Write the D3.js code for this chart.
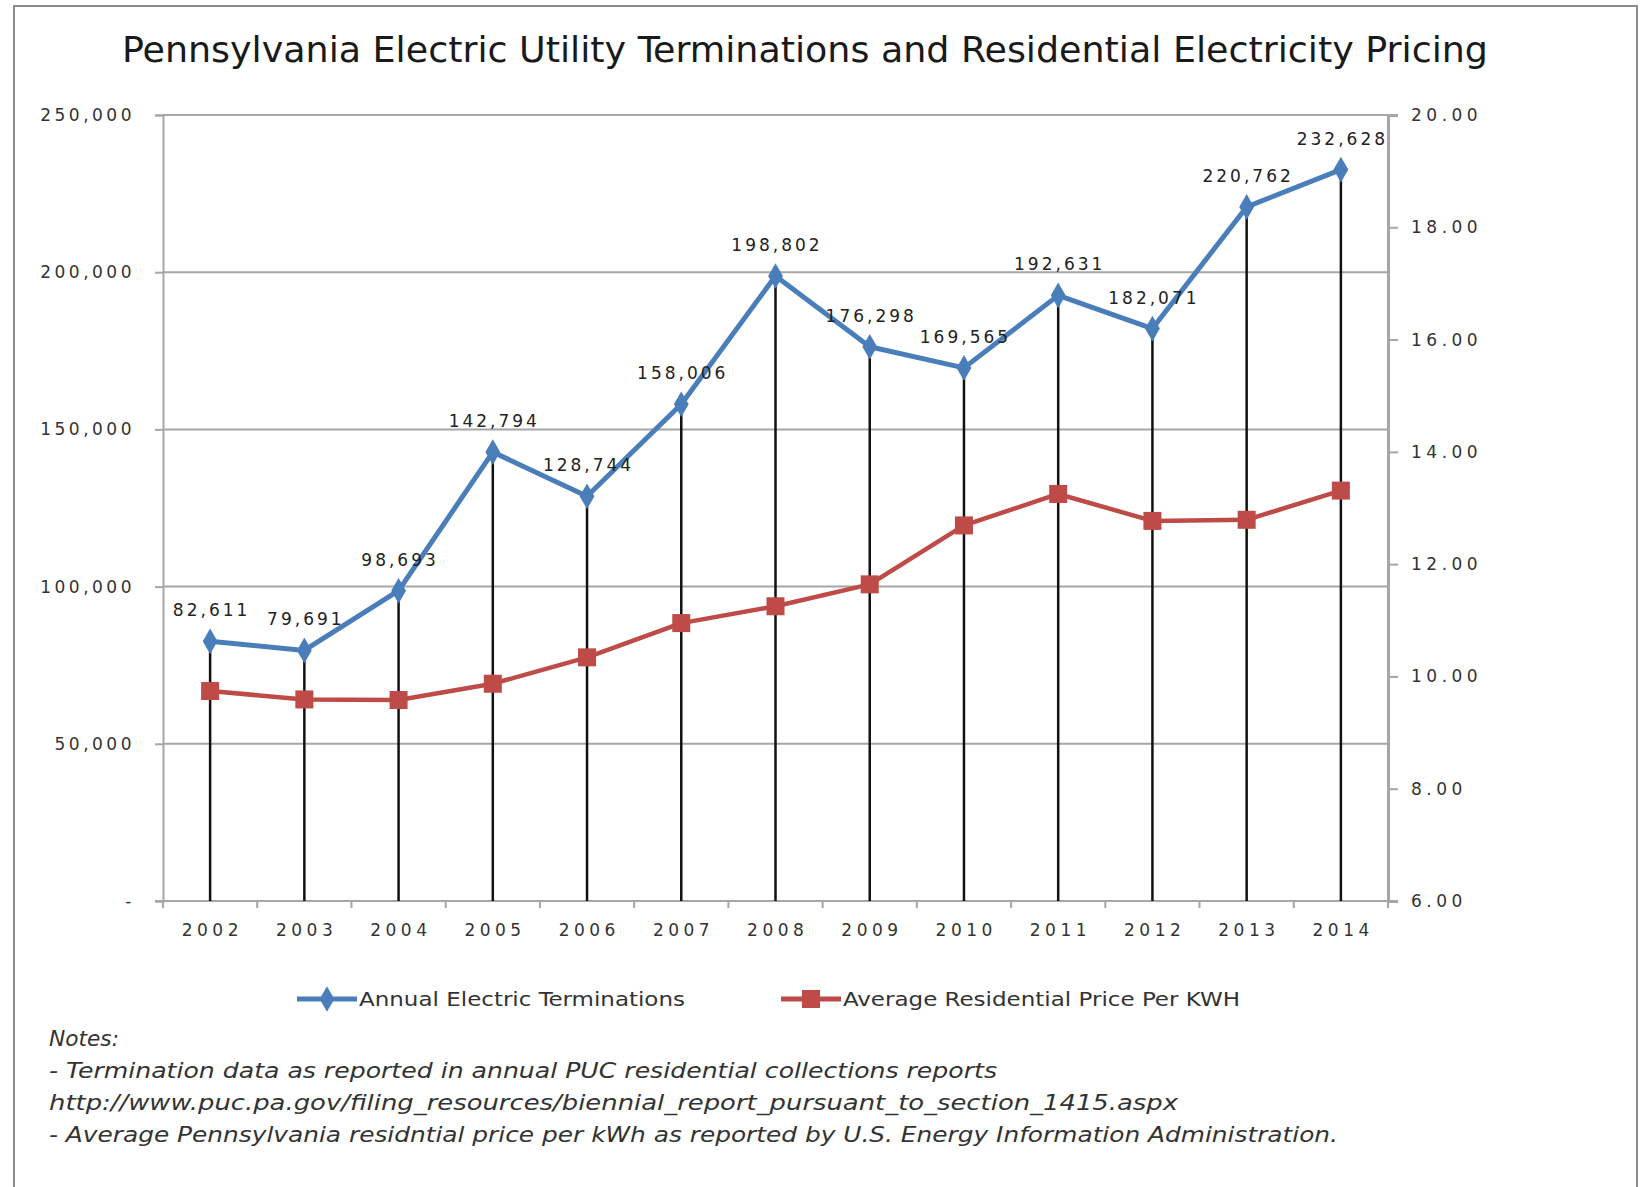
<!DOCTYPE html>
<html>
<head>
<meta charset="utf-8">
<script src="https://cdn.jsdelivr.net/npm/d3@7"></script>
<style>
  body { margin: 0; background: #fff; }
  svg { display: block; }
</style>
</head>
<body>
<div id="chart"></div>
<script>
// chart values
const years = ["2002", "2003", "2004", "2005", "2006", "2007", "2008", "2009", "2010", "2011", "2012", "2013", "2014"];
const terminations = [82611, 79691, 98693, 142794, 128744, 158006, 198802, 176298, 169565, 192631, 182071, 220762, 232628];
const prices = [9.74, 9.59, 9.58, 9.87, 10.34, 10.95, 11.25, 11.64, 12.69, 13.25, 12.77, 12.79, 13.31];
const leftTicks = [0, 50000, 100000, 150000, 200000, 250000];
const rightTicks = [6, 8, 10, 12, 14, 16, 18, 20];
const seriesNames = ["Annual Electric Terminations", "Average Residential Price Per KWH"];
const titleText = "Pennsylvania Electric Utility Terminations and Residential Electricity Pricing";
const notes = [
  "Notes:",
  "- Termination data  as reported in annual PUC residential collections reports",
  "http://www.puc.pa.gov/filing_resources/biennial_report_pursuant_to_section_1415.aspx",
  "- Average Pennsylvania residntial price per kWh as reported by U.S. Energy Information Administration."
];
const noteWidths = [70, 948, 1129, 1289];

const W = 1645, H = 1187;
const margin = { top: 115, right: 257, bottom: 286, left: 163 };
const blue = "#4a7ebb";
const red = "#be4b48";
const axisGrey = "#a6a6a6";
const numFont = "'DejaVu Sans', Verdana, sans-serif";
const narrowFont = "'Liberation Sans Narrow', 'DejaVu Sans Condensed', 'Liberation Sans', sans-serif";

const svg = d3.select("#chart")
  .append("svg")
  .attr("width", W)
  .attr("height", H);

// outer border
svg.append("rect")
  .attr("x", 14).attr("y", 6)
  .attr("width", 1623).attr("height", 1200)
  .attr("fill", "none")
  .attr("stroke", "#8c8c8c")
  .attr("stroke-width", 2);

svg.append("text")
  .attr("x", 122).attr("y", 62)
  .attr("textLength", 1366)
  .attr("lengthAdjust", "spacingAndGlyphs")
  .attr("font-family", narrowFont)
  .attr("font-size", 36)
  .attr("fill", "#1a1a1a")
  .text(titleText);

const x0 = margin.left, x1 = W - margin.right;
const y0 = H - margin.bottom, y1 = margin.top;

const x = d3.scaleBand().domain(years).range([x0, x1]);
const xEdge = d3.scaleLinear().domain([0, years.length]).range([x0, x1]);
const yL = d3.scaleLinear().domain([0, 250000]).range([y0, y1]);
const yR = d3.scaleLinear().domain([6, 20]).range([y0, y1]);
const cx = d => x(d) + x.bandwidth() / 2;

// gridlines
svg.append("g")
  .selectAll("line")
  .data(leftTicks.filter(d => d > 0))
  .join("line")
  .attr("x1", x0).attr("x2", x1)
  .attr("y1", d => yL(d)).attr("y2", d => yL(d))
  .attr("stroke", axisGrey)
  .attr("stroke-width", 2);

// left axis
const fmtLeft = d => d === 0 ? "-" : d3.format(",")(d);
const gL = svg.append("g")
  .attr("transform", `translate(${x0},0)`)
  .call(d3.axisLeft(yL).tickValues(leftTicks).tickSize(8).tickPadding(20).tickFormat(fmtLeft));
gL.select(".domain").attr("stroke", axisGrey).attr("stroke-width", 2);
gL.selectAll(".tick line").attr("stroke", axisGrey).attr("stroke-width", 2);
gL.selectAll(".tick text")
  .attr("font-family", numFont).attr("font-size", 17)
  .attr("letter-spacing", 3.5).attr("fill", "#333");

// right axis
const gR = svg.append("g")
  .attr("transform", `translate(${x1},0)`)
  .call(d3.axisRight(yR).tickValues(rightTicks).tickSize(10).tickPadding(13).tickFormat(d3.format(".2f")));
gR.select(".domain").attr("stroke", axisGrey).attr("stroke-width", 3);
gR.selectAll(".tick line").attr("stroke", axisGrey).attr("stroke-width", 2);
gR.selectAll(".tick text")
  .attr("font-family", numFont).attr("font-size", 17)
  .attr("letter-spacing", 4.5).attr("fill", "#333");

// bottom axis: line, boundary ticks, year labels
svg.append("line")
  .attr("x1", x0 - 8).attr("x2", x1)
  .attr("y1", y0).attr("y2", y0)
  .attr("stroke", axisGrey).attr("stroke-width", 2);
svg.append("g")
  .selectAll("line")
  .data(d3.range(years.length + 1))
  .join("line")
  .attr("x1", d => xEdge(d)).attr("x2", d => xEdge(d))
  .attr("y1", y0).attr("y2", y0 + 7)
  .attr("stroke", axisGrey).attr("stroke-width", 2);
svg.append("g")
  .selectAll("text")
  .data(years)
  .join("text")
  .attr("x", d => cx(d) + 2.25)
  .attr("y", y0 + 35)
  .attr("text-anchor", "middle")
  .attr("font-family", numFont).attr("font-size", 17)
  .attr("letter-spacing", 4.5).attr("fill", "#333")
  .text(d => d);

// drop lines from terminations to axis
svg.append("g")
  .selectAll("line")
  .data(years)
  .join("line")
  .attr("x1", d => cx(d)).attr("x2", d => cx(d))
  .attr("y1", (d, i) => yL(terminations[i]))
  .attr("y2", y0)
  .attr("stroke", "#111")
  .attr("stroke-width", 2.5);

// price line (right axis)
const priceLine = d3.line()
  .x((d, i) => cx(years[i]))
  .y(d => yR(d));
svg.append("path")
  .datum(prices)
  .attr("fill", "none")
  .attr("stroke", red)
  .attr("stroke-width", 4.5)
  .attr("stroke-linejoin", "round")
  .attr("d", priceLine);
svg.append("g")
  .selectAll("rect")
  .data(prices)
  .join("rect")
  .attr("x", (d, i) => cx(years[i]) - 9)
  .attr("y", d => yR(d) - 9)
  .attr("width", 18).attr("height", 18)
  .attr("fill", red);

// terminations line (left axis)
const termLine = d3.line()
  .x((d, i) => cx(years[i]))
  .y(d => yL(d));
svg.append("path")
  .datum(terminations)
  .attr("fill", "none")
  .attr("stroke", blue)
  .attr("stroke-width", 5)
  .attr("stroke-linejoin", "round")
  .attr("d", termLine);
const diamond = d3.symbol().type(d3.symbolDiamond).size(190);
svg.append("g")
  .selectAll("path")
  .data(terminations)
  .join("path")
  .attr("transform", (d, i) => `translate(${cx(years[i])},${yL(d)})`)
  .attr("d", diamond)
  .attr("fill", blue);

// data labels
svg.append("g")
  .selectAll("text")
  .data(terminations)
  .join("text")
  .attr("x", (d, i) => cx(years[i]) + 1.5)
  .attr("y", d => yL(d) - 25)
  .attr("text-anchor", "middle")
  .attr("font-family", numFont).attr("font-size", 17)
  .attr("letter-spacing", 3).attr("fill", "#222")
  .text(d => d3.format(",")(d));

// legend
const legend = [
  { name: seriesNames[0], color: blue, x: 297, w: 326, marker: "diamond" },
  { name: seriesNames[1], color: red, x: 781, w: 397, marker: "square" }
];
const legY = 999;
legend.forEach(l => {
  const g = svg.append("g");
  g.append("line")
    .attr("x1", l.x).attr("x2", l.x + 60)
    .attr("y1", legY).attr("y2", legY)
    .attr("stroke", l.color).attr("stroke-width", 5);
  if (l.marker === "diamond") {
    g.append("path")
      .attr("transform", `translate(${l.x + 30},${legY})`)
      .attr("d", diamond).attr("fill", l.color);
  } else {
    g.append("rect")
      .attr("x", l.x + 21).attr("y", legY - 9)
      .attr("width", 18).attr("height", 18)
      .attr("fill", l.color);
  }
  g.append("text")
    .attr("x", l.x + 62).attr("y", legY + 7)
    .attr("textLength", l.w)
    .attr("lengthAdjust", "spacingAndGlyphs")
    .attr("font-family", narrowFont).attr("font-size", 20)
    .attr("fill", "#333")
    .text(l.name);
});

// notes
svg.append("g")
  .selectAll("text")
  .data(notes)
  .join("text")
  .attr("x", 49)
  .attr("y", (d, i) => 1046 + i * 32)
  .attr("textLength", (d, i) => noteWidths[i])
  .attr("lengthAdjust", "spacingAndGlyphs")
  .attr("font-family", narrowFont).attr("font-size", 22)
  .attr("font-style", "italic")
  .attr("fill", "#333")
  .text(d => d);
</script>
</body>
</html>
